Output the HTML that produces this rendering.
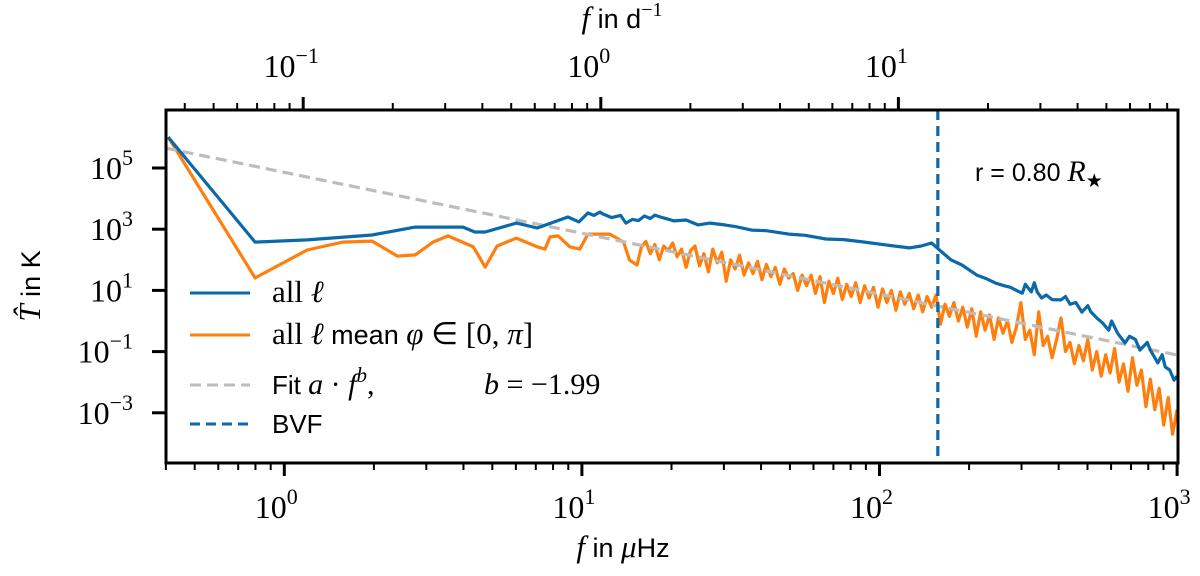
<!DOCTYPE html>
<html><head><meta charset="utf-8"><style>
html,body{margin:0;padding:0;background:#fff;}
svg text{font-family:"Liberation Serif",serif;fill:#000;}
svg text.sans, svg tspan.sans{font-family:"Liberation Sans",sans-serif;}
</style></head><body>
<svg id="chart" width="1200" height="576" viewBox="0 0 1200 576" xmlns="http://www.w3.org/2000/svg" style="position:absolute;left:0;top:0">
<g id="plot"></g>
</svg>
<script>
// ---- data (log10 f in µHz, log10 T in K) ----
const blueLogF = [-0.39,-0.098,0.077,0.295,0.44,0.6,0.64,0.675,0.78,0.85,0.953,0.99,1.02,1.04,1.061,1.07,1.1,1.13,1.148,1.17,1.19,1.21,1.23,1.245,1.27,1.31,1.35,1.39,1.43,1.48,1.52,1.57,1.62,1.695,1.75,1.82,1.88,1.95,2.025,2.1,2.14,2.175,2.21,2.24,2.277,2.327,2.36,2.39,2.42,2.44,2.46,2.48,2.49,2.51,2.52,2.53,2.545,2.56,2.58,2.61,2.625,2.64,2.66,2.68,2.7,2.71,2.73,2.75,2.77,2.78,2.8,2.825,2.84,2.86,2.875,2.885,2.9,2.91,2.925,2.935,2.95,2.96,2.975,2.99,3.0];
const blueLogT = [6.01,2.58,2.65,2.81,3.07,3.07,2.91,2.91,3.2,3.04,3.4,3.24,3.53,3.45,3.56,3.5,3.38,3.45,3.2,3.32,3.28,3.43,3.35,3.46,3.38,3.27,3.3,3.14,3.2,3.14,3.08,2.97,2.95,2.84,2.8,2.68,2.66,2.58,2.48,2.39,2.45,2.55,2.25,2.0,1.83,1.5,1.38,1.24,1.15,1.1,1.0,0.91,1.2,0.95,1.25,0.95,0.75,0.85,0.7,0.69,0.8,0.55,0.6,0.29,0.5,0.3,0.1,-0.07,-0.3,0.0,-0.4,-0.72,-0.5,-0.6,-0.95,-0.85,-0.7,-0.95,-1.2,-1.37,-1.1,-1.5,-1.6,-1.93,-1.8];
const orangeLogF = [-0.39,-0.098,0.077,0.197,0.295,0.38,0.44,0.5,0.55,0.635,0.675,0.715,0.78,0.85,0.876,0.893,0.92,0.96,0.993,1.02,1.094,1.14,1.16,1.185,1.2,
1.215,1.23,1.245,1.26,1.275,1.29,1.305,1.32,1.335,1.35,1.365,1.38,1.395,1.41,1.425,1.44,1.455,1.47,1.485,1.5,1.515,1.53,1.545,1.56,1.575,1.59,1.605,1.62,1.635,1.65,1.665,1.68,1.695,1.71,1.725,1.74,1.755,1.77,1.785,1.8,1.815,1.83,1.845,1.86,1.875,1.89,1.905,1.92,1.935,1.95,1.965,1.98,1.995,2.01,2.025,2.04,2.055,2.07,2.085,2.1,2.115,2.13,2.145,2.16,2.175,2.19,2.205,2.22,2.235,2.25,2.265,2.28,2.295,2.31,2.325,2.34,2.355,2.37,2.385,2.4,2.415,2.43,2.445,2.46,2.475,2.49,2.505,2.52,2.535,2.55,2.565,2.58,2.595,2.61,2.625,2.64,2.655,2.67,2.685,2.7,2.715,2.73,2.745,2.76,2.775,2.79,2.805,2.82,2.835,2.85,2.865,2.88,2.895,2.91,2.925,2.94,2.955,2.97,2.985,3.0];
const orangeLogT = [6.01,1.41,2.32,2.58,2.61,2.12,2.16,2.58,2.78,2.42,1.76,2.45,2.71,2.42,2.35,2.75,2.78,2.42,2.35,2.84,2.84,2.58,1.99,1.83,2.42,
2.6,2.2,2.5,2.0,2.45,2.3,2.55,2.1,2.35,1.75,2.3,2.45,1.8,2.2,1.6,2.35,1.9,2.25,1.3,2.0,1.7,2.15,1.5,1.9,1.55,1.95,1.35,1.85,1.45,1.75,1.2,1.7,1.4,1.55,1.0,1.5,1.15,1.5,0.9,1.45,0.6,1.3,0.9,1.4,0.7,1.2,0.8,1.25,0.6,1.15,0.75,1.1,0.45,1.05,0.6,1.0,0.35,0.95,0.55,0.9,0.4,0.85,0.3,0.8,0.45,0.85,-0.1,0.55,0.15,0.6,0.0,0.45,-0.2,0.4,-0.5,0.3,-0.3,0.2,-0.6,0.1,-0.4,0.0,-0.7,-0.2,0.6,-0.6,-0.3,-1.1,0.3,-0.8,-0.5,-1.2,-0.6,0.1,-1.0,-0.7,-1.4,-0.8,-1.3,-0.6,-1.6,-1.0,-1.8,-1.1,-1.7,-0.9,-2.0,-1.4,-2.3,-1.2,-2.1,-1.6,-2.8,-1.9,-2.9,-2.2,-3.4,-2.5,-3.7,-2.9];
const fitA = 5.65;
const fitB = -1.99;
const fitF0 = -0.398;
const bvfLogF = 2.196;
const xTickLabels = ["0","1","2","3"];
const yTickExps = [5,3,1,-1,-3];
const topTickExps = [-1,0,1];

const L=166,R=1178,T=110,B=463;
const X0=284.3, DEC=297.6;
const Y5=168, YDEC=30.6;
const xs = lf => X0 + lf*DEC;
const ys = lt => Y5 + (5-lt)*YDEC;
const NS="http://www.w3.org/2000/svg";
const plot=document.getElementById('plot');
function mk(tag,attrs,parent){const e=document.createElementNS(NS,tag);for(const k in attrs)e.setAttribute(k,attrs[k]);(parent||plot).appendChild(e);return e;}

const defs=mk('defs',{});
const cp=mk('clipPath',{id:'clip'},defs);
mk('rect',{x:L,y:T,width:R-L,height:B-T},cp);

const lfMin=(L-X0)/DEC, lfMax=(R-X0)/DEC;
for(let d=-1; d<=3; d++){
  for(let m=1;m<10;m++){
    const lf=d+Math.log10(m);
    if(lf<lfMin-0.001||lf>lfMax+0.002) continue;
    const x=xs(lf);
    const t=mk('line',{x1:x,x2:x,y1:B,y2:B+(m===1?13:7),stroke:'#000','stroke-width':m===1?3:2});
    
    
  }
}
xTickLabels.forEach((s,i)=>{
  const x=xs(i);
  const g=mk('text',{x:x-8,y:518,'font-size':32,'text-anchor':'middle'});
  
  
  g.innerHTML='10<tspan dy="-14" font-size="22">'+s+'</tspan>';
});
const off=Math.log10(11.574);
for(let d=-2; d<=1; d++){
  for(let m=1;m<10;m++){
    const lf=d+Math.log10(m)+off;
    if(lf<lfMin-0.001||lf>lfMax+0.002) continue;
    const x=xs(lf);
    const t=mk('line',{x1:x,x2:x,y1:T,y2:T-(m===1?13:7),stroke:'#000','stroke-width':m===1?3:2});
    
    
  }
}
topTickExps.forEach(e=>{
  const x=xs(e+off);
  const g=mk('text',{x:x-12,y:77,'font-size':32,'text-anchor':'middle'});
  
  
  g.innerHTML='10<tspan dy="-14" font-size="22">'+(e<0?'\u2212'+(-e):e)+'</tspan>';
});
yTickExps.forEach(e=>{
  const y=ys(e);
  const t=mk('line',{x1:L-14,x2:L,y1:y,y2:y,stroke:'#000','stroke-width':3});
  
  
  const g=mk('text',{x:133,y:y+11,'font-size':32,'text-anchor':'end'});
  
  
  g.innerHTML='10<tspan dy="-14" font-size="22">'+(e<0?'\u2212'+(-e):e)+'</tspan>';
});

function path(fx,fy){return fx.map((v,i)=>(i?'L':'M')+xs(v).toFixed(1)+','+ys(fy[i]).toFixed(1)).join(' ');}
const gData=mk('g',{'clip-path':'url(#clip)'});
const ob=mk('path',{d:path(orangeLogF,orangeLogT),fill:'none',stroke:'#ff7f0e','stroke-width':3.2,'stroke-linejoin':'round'},gData);


const fit=mk('line',{x1:xs(fitF0),y1:ys(fitA),x2:xs(3.05),y2:ys(fitA+fitB*(3.05-fitF0)),stroke:'#bdbdbd','stroke-width':3.2,'stroke-dasharray':'11,6'},gData);


const bl=mk('path',{d:path(blueLogF,blueLogT),fill:'none',stroke:'#0a69a8','stroke-width':3.2,'stroke-linejoin':'round'},gData);


const bv=mk('line',{x1:xs(bvfLogF),x2:xs(bvfLogF),y1:T,y2:B,stroke:'#0a69a8','stroke-width':3.2,'stroke-dasharray':'10,6'},gData);



const fr=mk('rect',{x:L,y:T,width:R-L,height:B-T,fill:'none',stroke:'#000','stroke-width':3});


</script>
<svg style="position:absolute;left:0;top:0" width="1200" height="576">
<text x="975" y="181" font-size="30"><tspan class="sans" font-size="25">r = 0.80 </tspan><tspan font-style="italic">R</tspan><tspan font-size="19" dy="6">★</tspan></text>
<text x="623" y="557" font-size="31" text-anchor="middle"><tspan font-style="italic">f</tspan><tspan class="sans" font-size="27"> in </tspan><tspan font-style="italic">μ</tspan><tspan class="sans" font-size="27">Hz</tspan></text>
<text x="622" y="28" font-size="31" text-anchor="middle"><tspan font-style="italic">f</tspan><tspan class="sans" font-size="27"> in d</tspan><tspan font-size="20" dy="-12">−1</tspan></text>
<text transform="translate(40,286) rotate(-90)" font-size="31" text-anchor="middle"><tspan font-style="italic">T̂</tspan><tspan class="sans" font-size="27"> in K</tspan></text>
<g>
<line x1="190" y1="293" x2="250" y2="293" stroke="#0a69a8" stroke-width="3"/>
<text x="272" y="302" font-size="31">all <tspan font-style="italic">ℓ</tspan></text>
<line x1="190" y1="335" x2="250" y2="335" stroke="#ff7f0e" stroke-width="3"/>
<text x="272" y="344" font-size="31">all <tspan font-style="italic">ℓ</tspan><tspan class="sans" font-size="27"> mean </tspan><tspan font-style="italic">φ</tspan> ∈ [0, <tspan font-style="italic">π</tspan>]</text>
<line x1="190" y1="385" x2="250" y2="385" stroke="#bdbdbd" stroke-width="3" stroke-dasharray="11,6"/>
<text x="272" y="394" font-size="30"><tspan class="sans" font-size="26">Fit </tspan><tspan font-style="italic">a</tspan> · <tspan font-style="italic">f</tspan><tspan font-style="italic" font-size="21" dy="-12">b</tspan><tspan dy="12">,</tspan><tspan x="484" font-style="italic">b</tspan> = −1.99</text>
<line x1="190" y1="424" x2="250" y2="424" stroke="#0a69a8" stroke-width="3" stroke-dasharray="10,6"/>
<text x="272" y="433" font-size="26" class="sans">BVF</text>
</g>
</svg>
</body></html>
